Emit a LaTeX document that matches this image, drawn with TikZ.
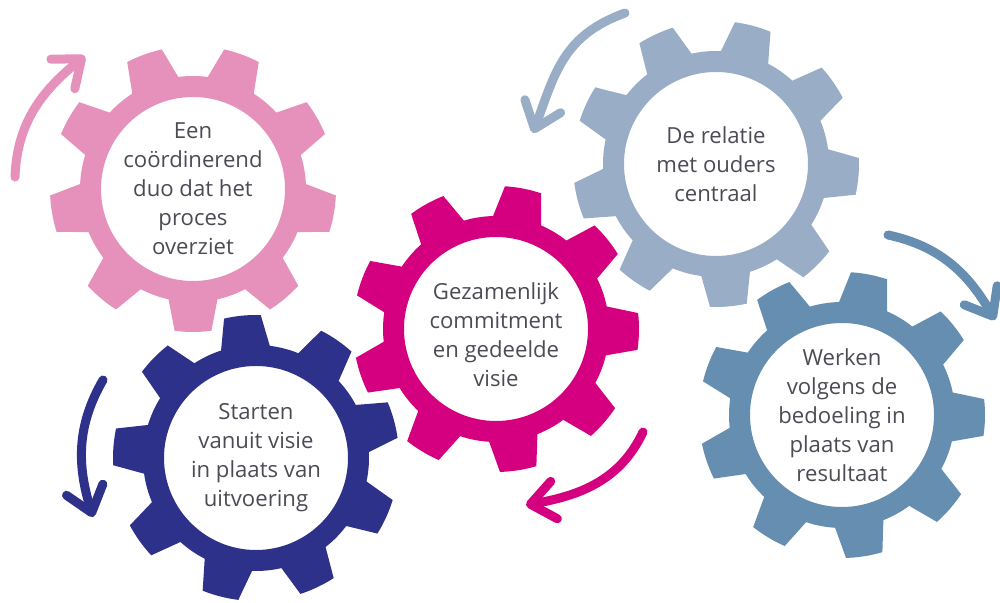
\documentclass[tikz,border=0pt]{standalone}
\usepackage{fontspec}
\setmainfont{Open Sans}
\usetikzlibrary{arrows.meta}
\definecolor{gearPink}{RGB}{229,145,187}
\definecolor{gearGrey}{RGB}{153,173,198}
\definecolor{gearMagenta}{RGB}{213,0,127}
\definecolor{gearNavy}{RGB}{45,49,137}
\definecolor{gearSteel}{RGB}{102,142,176}
\definecolor{gearText}{RGB}{75,75,85}
\begin{document}
\begin{tikzpicture}[x=0.2mm, y=0.2mm,
        gearlabel/.style={align=center, text=gearText, font=\fontsize{12.6}{16.5}\selectfont},
        turn/.style={line width=1.8mm, line cap=round, -{Straight Barb[length=4.8mm, width=7.6mm, round]}}]
    \useasboundingbox (0,0) rectangle (1000,603);
    % gears: centre x / centre y / first tooth / colour / name / text drop / text
    \foreach \gX/\gY/\gOff/\gCol/\gName/\gDrop/\gText in {
            193/414/30/gearPink/duo/0/{Een\\coördinerend\\duo dat het\\proces\\overziet},
            716/439/35/gearGrey/ouders/0/{De relatie\\met ouders\\centraal},
            496/274/-1/gearMagenta/visie/6/{Gezamenlijk\\commitment\\en gedeelde\\visie},
            256/145/15.5/gearNavy/start/0/{Starten\\vanuit visie\\in plaats van\\uitvoering},
            842/188/39/gearSteel/werken/0/{Werken\\volgens de\\bedoeling in\\plaats van\\resultaat}}
    {
        \begin{scope}[shift={(\gX,\gY)}]
            \fill[\gCol, even odd rule] (\gOff-12.5:113)
                \foreach \k [evaluate=\k as \a using \gOff+40*\k] in {0,...,8} {
                    -- ({\a-7.4}:143) arc[start angle=\a-7.4, end angle=\a+7.4, radius=143]
                    -- ({\a+12.5}:113) arc[start angle=\a+12.5, end angle=\a+27.5, radius=113]
                } -- cycle
                (0,0) circle[radius=92];
        \end{scope}
        \node[gearlabel] (\gName) at (\gX,\gY-\gDrop) {\gText};
    }
    % turning arrows
    \coordinate (duoStart) at (15,426);     \coordinate (duoEnd) at (85,547);
    \coordinate (oudersStart) at (625,590); \coordinate (oudersEnd) at (533,470);
    \coordinate (visieStart) at (643,171);  \coordinate (visieEnd) at (526,98);
    \coordinate (startStart) at (103,223);  \coordinate (startEnd) at (93,86);
    \coordinate (werkenStart) at (888,368); \coordinate (werkenEnd) at (995,283);
    \draw[turn, gearPink] (duoStart) to[out=88, in=219] (duoEnd);
    \draw[turn, gearGrey] (oudersStart) to[out=200, in=70, looseness=1.1] (oudersEnd);
    \draw[turn, gearMagenta] (visieStart) to[out=245, in=10] (visieEnd);
    \draw[turn, gearNavy] (startStart) to[out=240, in=107] (startEnd);
    \draw[turn, gearSteel] (werkenStart) to[out=-12, in=120] (werkenEnd);
\end{tikzpicture}
\end{document}
